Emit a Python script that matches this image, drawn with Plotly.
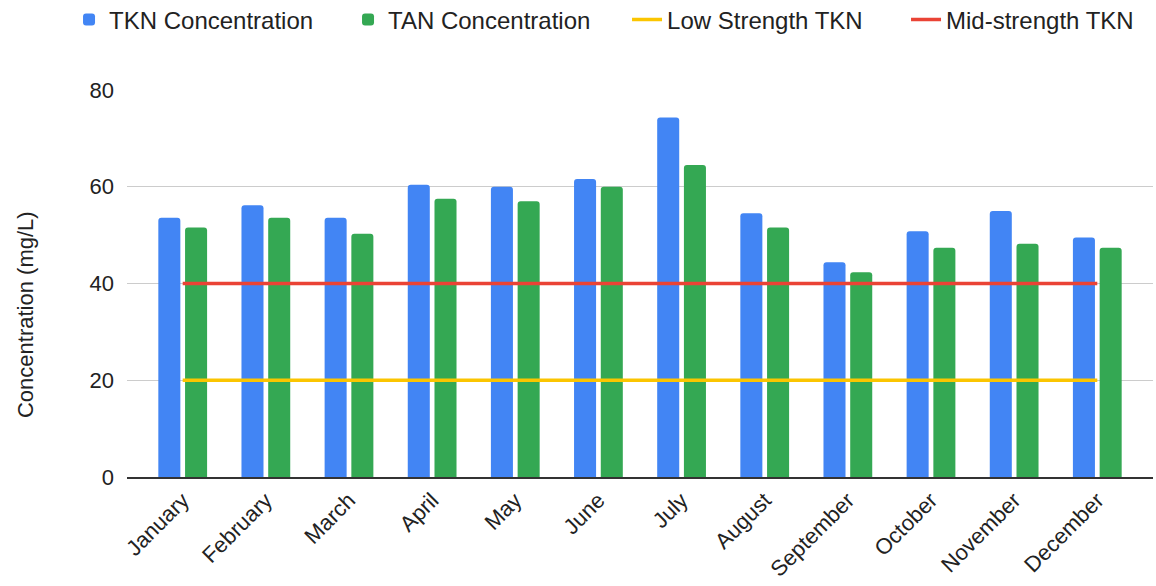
import plotly.graph_objects as go

months = ["January", "February", "March", "April", "May", "June", "July",
          "August", "September", "October", "November", "December"]
tkn = [53.6, 56.2, 53.6, 60.4, 60.0, 61.6, 74.3, 54.5, 44.4, 50.8, 55.0, 49.5]
tan = [51.6, 53.6, 50.3, 57.5, 57.0, 60.0, 64.5, 51.6, 42.3, 47.4, 48.2, 47.4]
low_strength = [20] * 12
mid_strength = [40] * 12
y_ticks = [0, 20, 40, 60, 80]

FONT = "Arial, Liberation Sans, sans-serif"

fig = go.Figure()
fig.add_trace(go.Bar(name="TKN Concentration", x=months, y=tkn,
                     marker=dict(color="#4285F4", line=dict(width=0))))
fig.add_trace(go.Bar(name="TAN Concentration", x=months, y=tan,
                     marker=dict(color="#34A853", line=dict(width=0))))
fig.add_trace(go.Scatter(name="Low Strength TKN", x=months, y=low_strength,
                         mode="lines", line=dict(color="#FBC500", width=3.5)))
fig.add_trace(go.Scatter(name="Mid-strength TKN", x=months, y=mid_strength,
                         mode="lines", line=dict(color="#EA4335", width=3.5)))

fig.update_layout(
    width=1156, height=586,
    margin=dict(l=127, r=3, t=90, b=109, autoexpand=False),
    paper_bgcolor="white", plot_bgcolor="white",
    font=dict(family=FONT, size=22, color="#222222"),
    barmode="group", bargap=0.357, bargroupgap=0.176,
    barcornerradius=3,
    showlegend=True,
    legend=dict(orientation="h", xref="paper", yref="paper",
                x=-0.0565, xanchor="left", y=1.181, yanchor="middle",
                font=dict(size=24, color="#222222"),
                entrywidth=234, entrywidthmode="pixels",
                itemwidth=30, tracegroupgap=0, bgcolor="rgba(0,0,0,0)"),
    xaxis=dict(range=[-0.67, 11.67], tickangle=-45, showgrid=False,
               showline=True, linecolor="#333333", linewidth=1.5,
               ticks="", tickfont=dict(size=22, color="#222222")),
    yaxis=dict(range=[0, 80], tickvals=y_ticks, showgrid=True,
               gridcolor="#CCCCCC", gridwidth=1, zeroline=False,
               showline=False, ticks="", ticklabelstandoff=12,
               tickfont=dict(size=22, color="#222222")),
    annotations=[dict(text="Concentration (mg/L)", textangle=-90,
                      xref="paper", yref="paper", x=-0.0994, y=0.4186,
                      xanchor="center", yanchor="middle", showarrow=False,
                      font=dict(size=22, color="#222222"))],
)

fig.write_html("out.html", config={"displayModeBar": False},
               post_script="document.body.style.margin='0';")
